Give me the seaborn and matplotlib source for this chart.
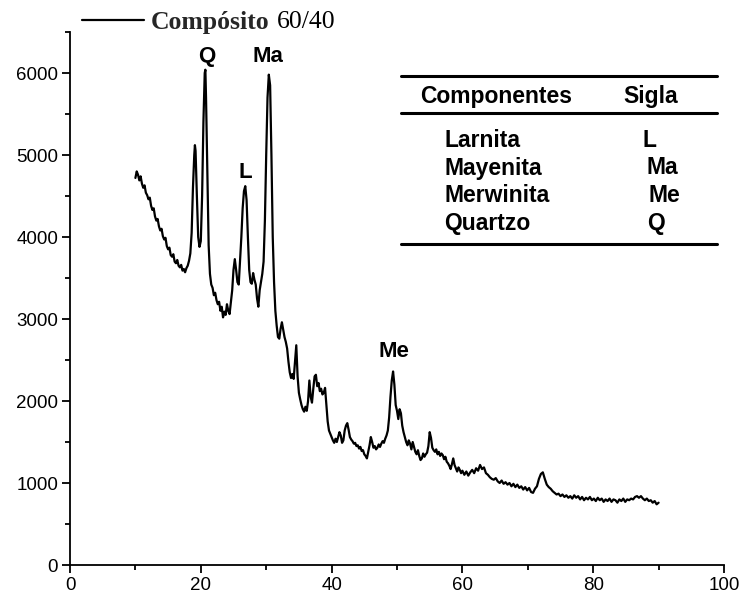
import numpy as np
import pandas as pd
import matplotlib
matplotlib.use("Agg")
import matplotlib.pyplot as plt
from matplotlib.lines import Line2D
from matplotlib.ticker import MultipleLocator
import seaborn as sns

# Difratograma do compósito 60/40: 2θ (graus) e intensidade (contagens)
two_theta = [
    10.0, 10.2, 10.4, 10.6, 10.8, 11.0, 11.2, 11.4, 11.6, 11.8,
    12.0, 12.2, 12.4, 12.6, 12.8, 13.0, 13.2, 13.4, 13.6, 13.8,
    14.0, 14.2, 14.4, 14.6, 14.8, 15.0, 15.2, 15.4, 15.6, 15.8,
    16.0, 16.2, 16.4, 16.6, 16.8, 17.0, 17.2, 17.4, 17.6, 17.8,
    18.0, 18.2, 18.4, 18.6, 18.8, 19.0, 19.1, 19.2, 19.4, 19.6,
    19.8, 20.0, 20.2, 20.4, 20.6, 20.7, 20.8, 21.0, 21.2, 21.4,
    21.6, 21.8, 22.0, 22.2, 22.4, 22.6, 22.8, 23.0, 23.2, 23.4,
    23.6, 23.8, 24.0, 24.2, 24.4, 24.6, 24.8, 25.0, 25.2, 25.4,
    25.6, 25.8, 26.0, 26.2, 26.4, 26.6, 26.8, 27.0, 27.2, 27.4,
    27.6, 27.8, 28.0, 28.2, 28.4, 28.6, 28.8, 29.0, 29.2, 29.4,
    29.6, 29.8, 30.0, 30.2, 30.4, 30.6, 30.8, 31.0, 31.2, 31.4,
    31.6, 31.8, 32.0, 32.2, 32.4, 32.6, 32.8, 33.0, 33.2, 33.4,
    33.6, 33.8, 34.0, 34.2, 34.4, 34.6, 34.8, 35.0, 35.2, 35.4,
    35.6, 35.8, 36.0, 36.2, 36.4, 36.6, 36.8, 37.0, 37.2, 37.4,
    37.6, 37.8, 38.0, 38.2, 38.4, 38.6, 38.8, 39.0, 39.2, 39.4,
    39.6, 39.8, 40.0, 40.2, 40.4, 40.6, 40.8, 41.0, 41.2, 41.4,
    41.6, 41.8, 42.0, 42.2, 42.4, 42.6, 42.8, 43.0, 43.2, 43.4,
    43.6, 43.8, 44.0, 44.2, 44.4, 44.6, 44.8, 45.0, 45.2, 45.4,
    45.6, 45.8, 46.0, 46.2, 46.4, 46.6, 46.8, 47.0, 47.2, 47.4,
    47.6, 47.8, 48.0, 48.2, 48.4, 48.6, 48.8, 49.0, 49.2, 49.4,
    49.6, 49.8, 50.0, 50.2, 50.4, 50.6, 50.8, 51.0, 51.2, 51.4,
    51.6, 51.8, 52.0, 52.2, 52.4, 52.6, 52.8, 53.0, 53.2, 53.4,
    53.6, 53.8, 54.0, 54.2, 54.4, 54.6, 54.8, 55.0, 55.2, 55.4,
    55.6, 55.8, 56.0, 56.2, 56.4, 56.6, 56.8, 57.0, 57.2, 57.4,
    57.6, 57.8, 58.0, 58.2, 58.4, 58.6, 58.8, 59.0, 59.2, 59.4,
    59.6, 59.8, 60.0, 60.3, 60.6, 60.9, 61.2, 61.5, 61.8, 62.1,
    62.4, 62.7, 63.0, 63.3, 63.6, 63.9, 64.2, 64.5, 64.8, 65.1,
    65.4, 65.7, 66.0, 66.3, 66.6, 66.9, 67.2, 67.5, 67.8, 68.1,
    68.4, 68.7, 69.0, 69.3, 69.6, 69.9, 70.2, 70.5, 70.8, 71.1,
    71.4, 71.7, 72.0, 72.3, 72.6, 72.9, 73.2, 73.5, 73.8, 74.1,
    74.4, 74.7, 75.0, 75.3, 75.6, 75.9, 76.2, 76.5, 76.8, 77.1,
    77.4, 77.7, 78.0, 78.3, 78.6, 78.9, 79.2, 79.5, 79.8, 80.1,
    80.4, 80.7, 81.0, 81.3, 81.6, 81.9, 82.2, 82.5, 82.8, 83.1,
    83.4, 83.7, 84.0, 84.3, 84.6, 84.9, 85.2, 85.5, 85.8, 86.1,
    86.4, 86.7, 87.0, 87.3, 87.6, 87.9, 88.2, 88.5, 88.8, 89.1,
    89.4, 89.7, 90.0,
]
intensity = [
    4720, 4800, 4760, 4690, 4740, 4650, 4600, 4630, 4540, 4510,
    4460, 4480, 4380, 4330, 4350, 4250, 4200, 4220, 4130, 4080,
    4100, 4010, 3970, 3990, 3890, 3850, 3870, 3780, 3760, 3790,
    3700, 3680, 3720, 3650, 3630, 3660, 3590, 3610, 3570, 3620,
    3650, 3710, 3800, 4050, 4600, 5000, 5120, 5050, 4500, 4000,
    3880, 3950, 4500, 5400, 6000, 6040, 5700, 4800, 3900, 3550,
    3420, 3380, 3290, 3320, 3230, 3180, 3210, 3100, 3150, 3020,
    3090, 3050, 3180, 3100, 3060, 3200, 3350, 3600, 3730, 3600,
    3450, 3420, 3700, 4000, 4350, 4560, 4620, 4450, 4000, 3600,
    3450, 3430, 3560, 3480, 3420, 3250, 3150, 3350, 3450, 3550,
    3700, 4200, 5000, 5700, 5980, 5850, 5000, 4000, 3450, 3100,
    2920, 2780, 2760, 2880, 2960, 2870, 2780, 2720, 2640, 2480,
    2350, 2280, 2330, 2270, 2480, 2680, 2300, 2100, 2020, 1950,
    1900, 1870, 1930, 1880, 2000, 2250, 2050, 1980, 2150, 2300,
    2320, 2180, 2220, 2120, 2150, 2080, 2100, 2160, 1950, 1750,
    1640, 1600, 1560, 1520, 1490, 1540, 1500, 1560, 1620, 1580,
    1490, 1520, 1640, 1700, 1730, 1650, 1560, 1530, 1510, 1480,
    1490, 1450, 1460, 1420, 1440, 1390, 1400, 1350, 1330, 1300,
    1380, 1460, 1560, 1500, 1430, 1450, 1410, 1430, 1470, 1440,
    1480, 1510, 1490, 1540, 1580, 1640, 1800, 2050, 2250, 2360,
    2200, 1950, 1880, 1780, 1900, 1850, 1700, 1620, 1560, 1500,
    1460, 1520, 1480, 1410, 1500, 1440, 1380, 1350, 1400, 1330,
    1280, 1300, 1360, 1320, 1350, 1370, 1450, 1620, 1550, 1430,
    1400, 1380, 1410, 1350, 1380, 1330, 1360, 1340, 1290, 1320,
    1260, 1240, 1210, 1170, 1230, 1300, 1220, 1180, 1140, 1190,
    1160, 1120, 1150, 1100, 1140, 1090, 1130, 1160, 1120, 1180,
    1150, 1220, 1170, 1190, 1120, 1100, 1070, 1050, 1040, 1060,
    1020, 1000, 1030, 990, 1010, 980, 1000, 960, 990, 950,
    980, 940, 960, 920, 950, 910, 940, 890, 880, 930,
    960, 1050, 1110, 1130, 1050, 980, 950, 930, 900, 880,
    860, 870, 840, 860, 830, 850, 820, 840, 810, 850,
    820, 840, 800, 830, 790, 820, 800, 830, 790, 810,
    780, 820, 790, 810, 770, 800, 780, 810, 770, 800,
    790, 760, 800, 780, 810, 770, 800, 790, 810, 800,
    830, 840, 820, 840, 810, 790, 810, 780, 790, 760,
    780, 740, 760,
]

# Rótulos das fases identificadas (sigla, 2θ, altura do rótulo)
peak_tags = ["Q", "Ma", "L", "Me"]
peak_tag_x = [20.9, 30.3, 26.8, 49.5]
peak_tag_y = [6200, 6200, 4790, 2600]

# Tabela de componentes
components = ["Larnita", "Mayenita", "Merwinita", "Quartzo"]
acronyms = ["L", "Ma", "Me", "Q"]

df = pd.DataFrame({"2theta": two_theta, "I": intensity})

sns.set_theme(style="ticks")
plt.rcParams["font.family"] = ["Liberation Sans", "DejaVu Sans"]

fig = plt.figure(figsize=(7.44, 5.99), dpi=100)
W, H = 744, 599
ax = fig.add_axes([70 / W, 1 - 565 / H, (724 - 70) / W, (565 - 32) / H])

sns.lineplot(data=df, x="2theta", y="I", ax=ax, color="black", linewidth=1.6,
             estimator=None, sort=False, label="Compósito")

ax.set_xlim(0, 100)
ax.set_ylim(0, 6500)
ax.xaxis.set_major_locator(MultipleLocator(20))
ax.xaxis.set_minor_locator(MultipleLocator(10))
ax.yaxis.set_major_locator(MultipleLocator(1000))
ax.yaxis.set_minor_locator(MultipleLocator(500))
ax.set_xlabel("")
ax.set_ylabel("")
for s in ["top", "right"]:
    ax.spines[s].set_visible(False)
for s in ["left", "bottom"]:
    ax.spines[s].set_linewidth(1.3)
    ax.spines[s].set_color("black")
ax.tick_params(which="major", direction="out", length=5.5, width=1.3,
               colors="black", labelsize=13.5, pad=3)
ax.tick_params(which="minor", direction="out", length=3.5, width=1.3,
               colors="black")

# Legenda: nome em negrito seguido da proporção em texto normal
leg = ax.legend(loc="center left", bbox_to_anchor=(82 / W, 1 - 22 / H),
                bbox_transform=fig.transFigure, frameon=False, borderpad=0,
                borderaxespad=0, handlelength=2.4, handletextpad=0.28,
                prop={"family": "Liberation Serif", "weight": "bold", "size": 18.5})
fig.canvas.draw()
leg_text = leg.get_texts()[0]
bb = leg_text.get_window_extent(renderer=fig.canvas.get_renderer())
fig.text((bb.x1 + 7) / W, bb.y0 / H, "60/40", ha="left", va="bottom",
         family="Liberation Serif", fontsize=18.5, color="black")

# Siglas sobre os picos
for tag, px, py in zip(peak_tags, peak_tag_x, peak_tag_y):
    ax.text(px, py, tag, ha="center", va="center", fontsize=16,
            fontweight="bold", color="black")

# Tabela de componentes e siglas
def fx(p):
    return p / W

def fy(p):
    return 1 - p / H

for yl in (76, 113, 244):
    fig.add_artist(Line2D([fx(401), fx(717)], [fy(yl), fy(yl)],
                          color="black", linewidth=2.2,
                          transform=fig.transFigure))

fig.text(fx(420), fy(96), "Componentes", ha="left", va="center",
         fontsize=16.5, fontweight="bold", color="black")
fig.text(fx(623), fy(96), "Sigla", ha="left", va="center",
         fontsize=16.5, fontweight="bold", color="black")

row_y = [141, 168, 196, 223]
sig_x = [643, 647, 649, 647]
for name, sig, ry, sx in zip(components, acronyms, row_y, sig_x):
    fig.text(fx(444), fy(ry), name, ha="left", va="center",
             fontsize=16.5, fontweight="bold", color="black")
    fig.text(fx(sx), fy(ry), sig, ha="left", va="center",
             fontsize=16.5, fontweight="bold", color="black")

fig.savefig("out.png", dpi=100)
